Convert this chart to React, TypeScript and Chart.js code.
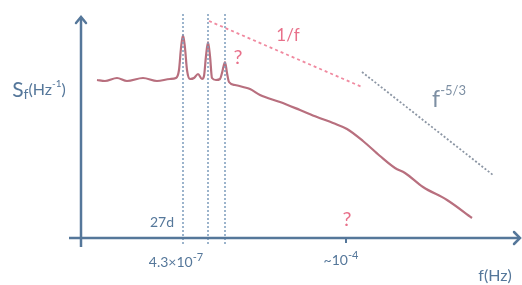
import React, { useEffect, useRef } from "react";
import { Chart, registerables } from "chart.js";
Chart.register(...registerables);

// Spectrum sketch (x: position along frequency axis, y: Sf level above the f-axis)
const spectrumX = [16, 24, 36, 46, 62, 76, 89, 95, 98, 100, 102, 104, 106, 109, 113, 117, 121, 123, 125, 127, 129, 131, 135, 139, 141, 144, 146, 148, 154, 162, 169, 179, 199, 219, 236, 252, 266, 282, 299, 314, 324, 342, 366, 391];
const spectrumY = [158, 157, 160, 157, 160, 157, 159, 160, 168, 190, 203, 190, 168, 159, 160, 164, 159, 162, 182, 196, 182, 160, 158, 159, 165, 176, 165, 156, 153, 151, 149, 143, 136, 128, 121, 115, 109, 97, 82, 70, 65, 51, 38, 20];

// Dotted marker lines at the peak frequencies
const markerX = [102, 127, 144];
const markerSpan = [-6, 224];

// Reference slopes
const oneOverFX = [128, 281];
const oneOverFY = [217, 151];
const kolmogorovX = [281, 412];
const kolmogorovY = [166, 63];

// Axes
const xAxisSpan = [-12, 439];
const yAxisSpan = [-9, 221];
const tickX = [265];

const BLUE = "#55779a";
const PINK = "#e8708a";
const CURVE = "#b86f7e";

type Seg = { t: string; s: number; dy?: number };
type Label = { x: number; y: number; color: string; segs: Seg[] };

const labels: Label[] = [
  { x: -42, y: 148, color: BLUE, segs: [{ t: "S", s: 21 }, { t: "f", s: 14, dy: 4 }, { t: "(Hz", s: 16 }, { t: "-1", s: 10, dy: -6 }, { t: ")", s: 16 }] },
  { x: 81, y: 16, color: BLUE, segs: [{ t: "27d", s: 14 }] },
  { x: 95, y: -24, color: BLUE, segs: [{ t: "4.3×10", s: 14 }, { t: "-7", s: 11, dy: -5 }] },
  { x: 260, y: -22, color: BLUE, segs: [{ t: "~10", s: 14 }, { t: "-4", s: 11, dy: -5 }] },
  { x: 414, y: -38, color: BLUE, segs: [{ t: "f(Hz)", s: 16 }] },
  { x: 266, y: 18, color: PINK, segs: [{ t: "?", s: 20 }] },
  { x: 157, y: 180, color: PINK, segs: [{ t: "?", s: 20 }] },
  { x: 207, y: 202, color: PINK, segs: [{ t: "1/f", s: 17 }] },
  { x: 368, y: 138, color: "#7d8fa3", segs: [{ t: "f", s: 23 }, { t: "-5/3", s: 13, dy: -9 }] },
];

const FONT = "Lato, 'Open Sans', sans-serif";

const decorPlugin = {
  id: "decor",
  afterDatasetsDraw(chart: any) {
    const { ctx, scales } = chart;
    const xs = scales.x, ys = scales.y;
    ctx.save();
    ctx.strokeStyle = BLUE;
    ctx.lineWidth = 2.5;
    ctx.lineCap = "round";
    const ax = xs.getPixelForValue(xAxisSpan[1]);
    const ay = ys.getPixelForValue(0);
    ctx.beginPath();
    ctx.moveTo(ax - 6, ay - 6);
    ctx.lineTo(ax, ay);
    ctx.lineTo(ax - 6, ay + 6);
    ctx.stroke();
    const bx = xs.getPixelForValue(0);
    const by = ys.getPixelForValue(yAxisSpan[1]);
    ctx.beginPath();
    ctx.moveTo(bx - 5, by + 6);
    ctx.lineTo(bx, by);
    ctx.lineTo(bx + 5, by + 6);
    ctx.stroke();
    ctx.textBaseline = "middle";
    ctx.textAlign = "left";
    for (const l of labels) {
      let total = 0;
      for (const sg of l.segs) {
        ctx.font = `${sg.s}px ${FONT}`;
        total += ctx.measureText(sg.t).width;
      }
      let px = xs.getPixelForValue(l.x) - total / 2;
      const py = ys.getPixelForValue(l.y);
      ctx.fillStyle = l.color;
      for (const sg of l.segs) {
        ctx.font = `${sg.s}px ${FONT}`;
        ctx.fillText(sg.t, px, py + (sg.dy || 0));
        px += ctx.measureText(sg.t).width;
      }
    }
    ctx.restore();
  },
};

export default function App() {
  const ref = useRef<HTMLCanvasElement>(null);
  useEffect(() => {
    if (!ref.current) return;
    const line = (xs: number[], ys: number[], color: string, width: number, dash: number[] = [], smooth = false) => ({
      data: xs.map((x, i) => ({ x, y: ys[i] })),
      borderColor: color,
      borderWidth: width,
      borderDash: dash,
      pointRadius: 0,
      cubicInterpolationMode: smooth ? "monotone" : "default",
      tension: 0,
      fill: false,
    });
    const datasets: any[] = [
      line(xAxisSpan, [0, 0], BLUE, 2.5),
      line([0, 0], yAxisSpan, BLUE, 2.5),
      ...tickX.map((t) => line([t, t], [0, -5], BLUE, 2)),
      ...markerX.map((m) => line([m, m], markerSpan, "#7c9cbc", 1.5, [2, 2])),
      line(oneOverFX, oneOverFY, "#f08aa0", 1.8, [3, 3]),
      line(kolmogorovX, kolmogorovY, "#8c96a4", 1.8, [2, 2]),
      line(spectrumX, spectrumY, CURVE, 2.2, [], true),
    ];
    const chart = new Chart(ref.current, {
      type: "line",
      data: { datasets },
      options: {
        responsive: false,
        animation: false,
        layout: { padding: 0 },
        plugins: { legend: { display: false }, tooltip: { enabled: false } },
        scales: {
          x: { type: "linear", min: -81, max: 441, display: false },
          y: { type: "linear", min: -47, max: 238, display: false },
        },
      },
      plugins: [decorPlugin],
    });
    return () => chart.destroy();
  }, []);
  return (
    <div style={{ position: "fixed", left: 0, top: 0, width: 522, height: 285, background: "#fff" }}>
      <canvas ref={ref} width={522} height={285} style={{ display: "block" }} />
    </div>
  );
}
